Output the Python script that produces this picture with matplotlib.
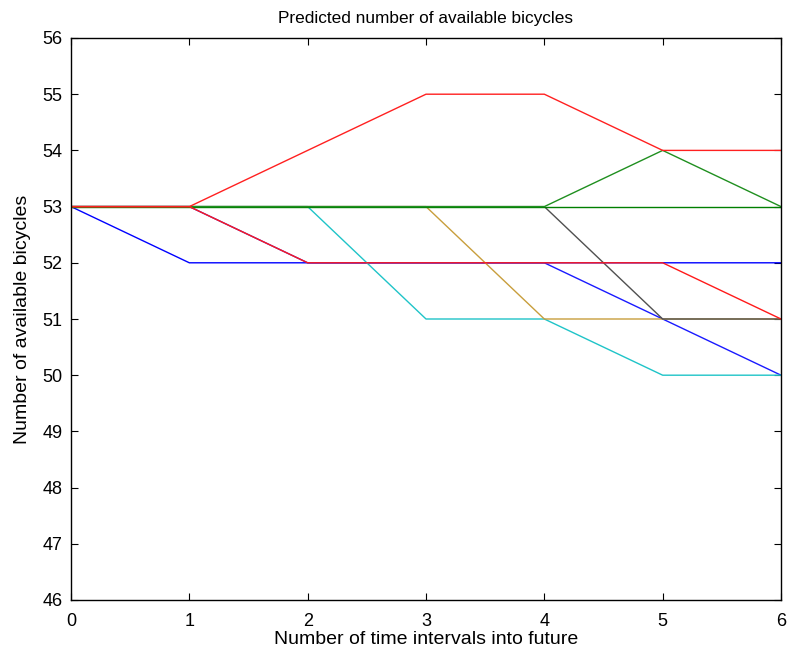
import numpy as np
import matplotlib.pyplot as plt

plt.rcParams['font.family'] = ['Liberation Sans', 'DejaVu Sans']

# time intervals into future
steps = [0, 1, 2, 3, 4, 5, 6]

# predicted bike counts, one list per scenario (draw order matters for overlaps)
blue_a = [53, 52, 52, 52, 52, 52, 52]
blue_b = [53, 53, 52, 52, 52, 51, 50]
cyan_a = [53, 53, 53, 51, 51, 50, 50]
gold_a = [53, 53, 53, 53, 51, 51, 51]
gray_a = [53, 53, 53, 53, 53, 51, 51]
green_a = [53, 53, 53, 53, 53, 53, 53]
green_b = [53, 53, 53, 53, 53, 54, 53]
red_a = [53, 53, 52, 52, 52, 52, 51]
red_b = [53, 53, 54, 55, 55, 54, 54]

series = [
    (blue_a, '#0000ff'),
    (blue_b, '#1a1aff'),
    (cyan_a, '#1fc4c8'),
    (gold_a, '#c89e3c'),
    (gray_a, '#505050'),
    (green_a, '#007f00'),
    (green_b, '#1f8f1f'),
    (red_a, '#ff1a1a'),
    (red_b, '#ff2020'),
]

fig = plt.figure(figsize=(7.87, 6.54), dpi=100)
ax = fig.add_axes([71 / 787, 1 - 600 / 654, 710 / 787, 562 / 654])

for vals, col in series:
    ax.plot(steps, vals, color=col, linewidth=1.0)

ax.set_xlim(0, 6)
ax.set_ylim(46, 56)
ax.set_xticks(range(0, 7))
ax.set_yticks(range(46, 57))
ax.tick_params(direction='in', length=5, width=0.8, labelsize=13,
               top=True, right=True)
ax.tick_params(axis='x', pad=9)
ax.tick_params(axis='y', pad=6)
for s in ax.spines.values():
    s.set_linewidth(1.0)

ax.set_title('Predicted number of available bicycles', fontsize=12.4, pad=11)
ax.set_xlabel('Number of time intervals into future', fontsize=14, labelpad=1)
ax.set_ylabel('Number of available bicycles', fontsize=14, labelpad=8)

fig.savefig('out.png', dpi=100)
